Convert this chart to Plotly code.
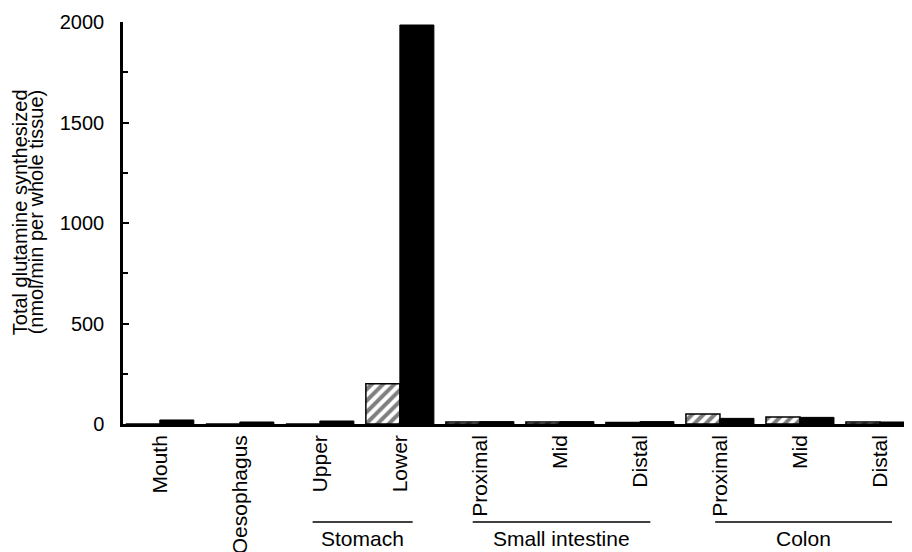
import plotly.graph_objects as go

categories = ["Mouth", "Oesophagus", "Upper", "Lower", "Proximal", "Mid", "Distal",
              "Proximal", "Mid", "Distal"]
hatched_values = [0, 0, 0, 200, 10, 10, 8, 50, 35, 10]
black_values = [20, 10, 15, 1985, 12, 12, 12, 28, 33, 10]
y_tick_values = [0, 500, 1000, 1500, 2000]
y_tick_labels = ["0", "500", "1000", "1500", "2000"]
groups = ["Stomach", "Small intestine", "Colon"]
group_spans = [(1.91, 3.16), (3.91, 6.13), (6.94, 9.15)]

x_pos = list(range(len(categories)))
FONT = "Liberation Sans, Arial, sans-serif"

fig = go.Figure()
fig.add_trace(go.Bar(
    x=x_pos, y=hatched_values, name="hatched",
    marker=dict(color="white",
                pattern=dict(shape="/", fgcolor="black", bgcolor="white", size=8, solidity=0.5),
                line=dict(color="black", width=1.5)),
))
fig.add_trace(go.Bar(
    x=x_pos, y=black_values, name="black",
    marker=dict(color="black", line=dict(color="black", width=1)),
))

# page body has an 8px margin, so the figure is 8px smaller and margins compensate
fig.update_layout(
    width=904, height=544,
    margin=dict(l=115, r=0, t=14, b=128, autoexpand=False),
    paper_bgcolor="white", plot_bgcolor="white",
    barmode="group", bargap=0.15, bargroupgap=0,
    showlegend=False,
    font=dict(family=FONT, color="black", size=20),
)
fig.update_xaxes(
    automargin=False,
    range=[-0.46, 9.4],
    tickmode="array", tickvals=x_pos, ticktext=categories,
    tickangle=-90, ticks="", showgrid=False, zeroline=False,
    showline=True, linecolor="black", linewidth=2.5,
    tickfont=dict(family=FONT, size=21, color="black"),
)
fig.update_yaxes(
    automargin=False,
    range=[0, 2000],
    tickmode="array", tickvals=y_tick_values, ticktext=y_tick_labels,
    ticks="inside", ticklen=6, tickwidth=1.5, tickcolor="black",
    minor=dict(tickmode="linear", tick0=0, dtick=250, ticks="inside", ticklen=5, tickcolor="black", tickwidth=1.5),
    showgrid=False, zeroline=False,
    showline=True, linecolor="black", linewidth=2.5,
    tickfont=dict(family=FONT, size=20, color="black"),
    ticklabelstandoff=12,
)

# y-axis title as two tight lines
fig.add_annotation(text="Total glutamine synthesized", xref="paper", yref="paper",
                   x=-0.1305, y=0.527, textangle=-90, showarrow=False,
                   font=dict(family=FONT, size=20, color="black"),
                   xanchor="center", yanchor="middle")
fig.add_annotation(text="(nmol/min per whole tissue)", xref="paper", yref="paper",
                   x=-0.110, y=0.527, textangle=-90, showarrow=False,
                   font=dict(family=FONT, size=20, color="black"),
                   xanchor="center", yanchor="middle")

for name, (x0, x1) in zip(groups, group_spans):
    fig.add_shape(type="line", xref="x", yref="paper", x0=x0, x1=x1, y0=-0.244, y1=-0.244,
                  line=dict(color="black", width=1.5))
    fig.add_annotation(text=name, xref="x", yref="paper", x=(x0 + x1) / 2, y=-0.286,
                       showarrow=False, font=dict(family=FONT, size=21, color="black"),
                       xanchor="center", yanchor="middle")

fig.write_html("out.html")
